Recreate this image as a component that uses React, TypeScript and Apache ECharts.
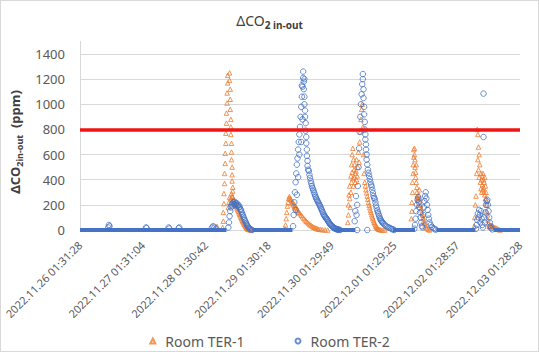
import React, { useEffect, useRef } from "react";
import * as echarts from "echarts";

// x = days since 2022.11.26 01:31:28
const tickLabels = [
  "2022.11.26 01:31:28",
  "2022.11.27 01:31:04",
  "2022.11.28 01:30:42",
  "2022.11.29 01:30:18",
  "2022.11.30 01:29:49",
  "2022.12.01 01:29:25",
  "2022.12.02 01:28:57",
  "2022.12.03 01:28:28",
];

const thresholdValue = 800;

// Room TER-1 (orange triangles)
const ter1Nov28 = [[2.18, 30]];
const ter1Nov29 = [
  [2.27, 20], [2.28, 70], [2.28, 140], [2.29, 210], [2.29, 290], [2.3, 370], [2.3, 450], [2.31, 530],
  [2.31, 610], [2.32, 690], [2.32, 770], [2.33, 850], [2.33, 930], [2.34, 1010], [2.34, 1090], [2.35, 1170],
  [2.35, 1230], [2.38, 1250], [2.38, 1190], [2.39, 1120], [2.39, 1040], [2.39, 960], [2.4, 880], [2.4, 820],
  [2.4, 760], [2.41, 690], [2.41, 620], [2.41, 560], [2.42, 500], [2.42, 440], [2.42, 390], [2.43, 340],
  [2.43, 310], [2.36, 180], [2.37, 220], [2.38, 260], [2.4, 250], [2.41, 290], [2.42, 270], [2.43, 260],
  [2.44, 245], [2.45, 235], [2.46, 220], [2.47, 210], [2.48, 195], [2.49, 185], [2.5, 170], [2.51, 160],
  [2.52, 148], [2.53, 135], [2.54, 125], [2.55, 112], [2.56, 100], [2.57, 90], [2.58, 78], [2.59, 68],
  [2.6, 58], [2.61, 48], [2.62, 40], [2.63, 32], [2.64, 25], [2.65, 18], [2.66, 12], [2.67, 8],
  [2.68, 5], [2.7, 2], [2.72, 0],
];
const ter1Nov30 = [
  [3.26, 10], [3.27, 40], [3.28, 90], [3.29, 140], [3.3, 190], [3.31, 220], [3.32, 250], [3.33, 265],
  [3.34, 255], [3.35, 245], [3.36, 240], [3.37, 215], [3.38, 225], [3.39, 200], [3.4, 210], [3.41, 185],
  [3.42, 195], [3.43, 170], [3.44, 180], [3.45, 155], [3.46, 160], [3.47, 140], [3.48, 145], [3.5, 130],
  [3.52, 118], [3.54, 105], [3.56, 92], [3.58, 80], [3.6, 70], [3.62, 60], [3.64, 50], [3.66, 42],
  [3.68, 35], [3.7, 28], [3.72, 22], [3.74, 17], [3.76, 13], [3.78, 9], [3.8, 6], [3.83, 4],
  [3.86, 2], [3.9, 0], [3.94, 0],
];
const ter1Dec01 = [
  [4.26, 60], [4.27, 120], [4.27, 200], [4.28, 280], [4.29, 250], [4.29, 350], [4.3, 180], [4.31, 430],
  [4.31, 300], [4.32, 520], [4.32, 380], [4.33, 600], [4.33, 460], [4.34, 650], [4.34, 410], [4.35, 560],
  [4.35, 350], [4.36, 480], [4.36, 420], [4.37, 520], [4.38, 450], [4.38, 380], [4.39, 470], [4.4, 400],
  [4.4, 560], [4.41, 430], [4.42, 500], [4.43, 620], [4.44, 540], [4.45, 700], [4.46, 780], [4.47, 880],
  [4.48, 960], [4.49, 1000], [4.5, 820], [4.51, 600], [4.52, 450], [4.53, 380], [4.54, 350], [4.55, 320],
  [4.56, 295], [4.57, 270], [4.58, 245], [4.59, 220], [4.6, 198], [4.61, 178], [4.62, 158], [4.63, 140],
  [4.64, 122], [4.65, 105], [4.66, 90], [4.67, 75], [4.68, 62], [4.69, 50], [4.7, 40], [4.71, 30],
  [4.72, 22], [4.73, 15], [4.74, 10], [4.75, 6], [4.77, 3], [4.79, 0], [4.82, 0], [4.85, 0],
];
const ter1Dec02 = [
  [5.27, 90], [5.28, 150], [5.28, 220], [5.29, 300], [5.29, 380], [5.3, 450], [5.3, 520], [5.31, 580],
  [5.31, 640], [5.32, 650], [5.32, 600], [5.33, 560], [5.33, 500], [5.34, 460], [5.34, 420], [5.35, 380],
  [5.35, 520], [5.36, 340], [5.36, 300], [5.37, 270], [5.37, 250], [5.38, 240], [5.38, 200], [5.39, 280],
  [5.4, 320], [5.41, 250], [5.42, 200], [5.43, 170], [5.44, 140], [5.45, 120], [5.46, 95], [5.47, 75],
  [5.48, 55], [5.49, 40], [5.5, 25], [5.52, 12], [5.54, 5], [5.56, 0],
];
const ter1Dec03 = [
  [6.27, 30], [6.28, 100], [6.29, 200], [6.3, 270], [6.31, 450], [6.32, 800], [6.33, 760], [6.33, 560],
  [6.34, 660], [6.34, 480], [6.35, 600], [6.35, 420], [6.36, 520], [6.37, 380], [6.38, 450], [6.38, 330],
  [6.39, 400], [6.39, 300], [6.4, 430], [6.4, 360], [6.41, 450], [6.41, 320], [6.42, 400], [6.42, 340],
  [6.43, 380], [6.43, 300], [6.44, 420], [6.44, 280], [6.45, 350], [6.45, 250], [6.46, 300], [6.46, 200],
  [6.47, 230], [6.47, 150], [6.48, 120], [6.49, 80], [6.5, 50], [6.51, 30], [6.52, 25], [6.54, 35],
  [6.56, 30], [6.58, 25], [6.6, 20], [6.62, 15], [6.64, 10], [6.66, 5], [6.68, 0],
];

// Room TER-2 (blue circles)
const ter2Before = [
  [0.45, 20], [0.46, 40], [0.47, 30], [1.05, 20], [1.06, 15], [1.41, 20], [1.42, 12], [1.57, 15],
  [1.58, 20], [2.1, 20], [2.12, 30], [2.14, 20], [2.16, 10],
];
const ter2Nov29 = [
  [2.36, 20], [2.37, 60], [2.38, 110], [2.39, 150], [2.4, 180], [2.41, 200], [2.42, 210], [2.43, 190],
  [2.44, 220], [2.45, 205], [2.46, 225], [2.47, 200], [2.48, 215], [2.49, 195], [2.5, 210], [2.51, 190],
  [2.52, 200], [2.53, 180], [2.54, 185], [2.55, 165], [2.56, 160], [2.57, 145], [2.58, 130], [2.59, 118],
  [2.6, 105], [2.61, 92], [2.62, 80], [2.63, 68], [2.64, 56], [2.65, 45], [2.66, 36], [2.67, 28],
  [2.68, 20], [2.69, 14], [2.7, 9], [2.72, 4], [2.74, 0],
];
const ter2Nov30 = [
  [3.39, 30], [3.4, 120], [3.41, 220], [3.42, 300], [3.43, 380], [3.44, 450], [3.45, 520], [3.46, 570],
  [3.47, 640], [3.48, 700], [3.49, 760], [3.5, 820], [3.51, 900], [3.52, 980], [3.53, 1060], [3.54, 1140],
  [3.55, 1210], [3.55, 1260], [3.56, 1180], [3.56, 1120], [3.57, 1060], [3.57, 1000], [3.58, 950], [3.58, 900],
  [3.59, 850], [3.59, 790], [3.6, 740], [3.6, 690], [3.61, 640], [3.61, 590], [3.62, 550], [3.62, 510],
  [3.63, 480], [3.43, 160], [3.45, 280], [3.47, 420], [3.49, 600], [3.52, 700], [3.54, 880], [3.53, 1150],
  [3.57, 1200], [3.64, 470], [3.65, 440], [3.66, 415], [3.67, 390], [3.68, 370], [3.69, 350], [3.7, 335],
  [3.71, 320], [3.72, 305], [3.73, 290], [3.74, 275], [3.75, 262], [3.76, 250], [3.77, 240], [3.78, 230],
  [3.79, 220], [3.8, 210], [3.81, 200], [3.82, 190], [3.83, 178], [3.84, 166], [3.85, 155], [3.86, 143],
  [3.87, 131], [3.88, 120], [3.89, 112], [3.9, 105], [3.91, 98], [3.92, 91], [3.93, 85], [3.94, 77],
  [3.95, 68], [3.96, 60], [3.97, 53], [3.98, 46], [3.99, 40], [4.0, 35], [4.01, 30], [4.02, 25],
  [4.03, 20], [4.04, 17], [4.05, 14], [4.06, 11], [4.07, 9], [4.08, 7], [4.09, 5], [4.1, 4],
  [4.11, 3], [4.12, 2], [4.14, 0],
];
const ter2Dec01 = [
  [4.37, 70], [4.38, 150], [4.39, 270], [4.4, 120], [4.41, 200], [4.41, 0], [4.42, 350], [4.43, 500],
  [4.44, 650], [4.45, 780], [4.46, 900], [4.47, 1000], [4.48, 1080], [4.49, 1160], [4.5, 1240], [4.5, 1200],
  [4.51, 1120], [4.51, 1050], [4.52, 980], [4.52, 920], [4.53, 860], [4.53, 800], [4.54, 760], [4.54, 720],
  [4.55, 680], [4.55, 640], [4.56, 600], [4.56, 560], [4.57, 0], [4.57, 520], [4.58, 480], [4.59, 455],
  [4.6, 430], [4.61, 405], [4.62, 380], [4.63, 360], [4.64, 345], [4.65, 320], [4.66, 295], [4.67, 270],
  [4.68, 255], [4.69, 245], [4.7, 220], [4.71, 195], [4.72, 175], [4.73, 155], [4.74, 140], [4.75, 125],
  [4.76, 110], [4.77, 95], [4.78, 85], [4.79, 75], [4.8, 68], [4.81, 62], [4.82, 55], [4.84, 45],
  [4.86, 36], [4.88, 28], [4.9, 22], [4.92, 18], [4.94, 14], [4.96, 8], [4.98, 4], [5.0, 0],
];
const ter2Dec02 = [
  [5.32, 10], [5.33, 40], [5.34, 90], [5.35, 150], [5.36, 200], [5.37, 240], [5.38, 260], [5.39, 220],
  [5.4, 180], [5.41, 140], [5.42, 100], [5.43, 60], [5.44, 30], [5.45, 20], [5.46, 120], [5.47, 180],
  [5.48, 230], [5.49, 270], [5.5, 300], [5.51, 250], [5.52, 200], [5.53, 160], [5.54, 120], [5.55, 90],
  [5.56, 60], [5.58, 40], [5.6, 25], [5.62, 15], [5.64, 8], [5.66, 3],
];
const ter2Dec03 = [
  [6.3, 10], [6.31, 40], [6.32, 80], [6.33, 130], [6.34, 100], [6.35, 160], [6.36, 120], [6.37, 60],
  [6.38, 150], [6.39, 90], [6.4, 40], [6.41, 20], [6.42, 1085], [6.42, 740], [6.43, 100], [6.44, 60],
  [6.45, 140], [6.46, 200], [6.47, 230], [6.48, 240], [6.49, 200], [6.5, 150], [6.51, 100], [6.52, 60],
  [6.53, 30], [6.54, 15], [6.56, 5],
];
// spans (in days) where Room TER-2 sits on 0 with overlapping markers
const ter2ZeroRuns = [
  [0, 2.33], [2.74, 3.38], [4.06, 4.38], [4.98, 5.33], [5.67, 6.29], [6.58, 7.0],
];

const ORANGE = "#ED7D31";
const BLUE = "#4472C4";
const GREY_TEXT = "#595959";
const FONT = "Noto Sans";

export default function App() {
  const ref = useRef<HTMLDivElement>(null);
  useEffect(() => {
    if (!ref.current) return;
    const chart = echarts.init(ref.current, undefined, { renderer: "svg" });
    const ter1 = [...ter1Nov28, ...ter1Nov29, ...ter1Nov30, ...ter1Dec01, ...ter1Dec02, ...ter1Dec03];
    const ter2 = [...ter2Before, ...ter2Nov29, ...ter2Nov30, ...ter2Dec01, ...ter2Dec02, ...ter2Dec03];
    const zeroSeries = ter2ZeroRuns.map((r) => ({
      type: "line",
      name: "TER-2 zero",
      data: [[r[0], 0], [r[1], 0]],
      showSymbol: false,
      symbol: "none",
      lineStyle: { color: BLUE, width: 4 },
      silent: true,
      z: 3,
    }));
    chart.setOption({
      animation: false,
      textStyle: { fontFamily: FONT },
      title: {
        left: "center",
        top: 4,
        text: "{a|ΔCO}{b|2 in-out}",
        textStyle: {
          fontWeight: "normal",
          rich: {
            a: { fontSize: 14, fontWeight: "normal", color: "#404040", fontFamily: FONT, lineHeight: 20 },
            b: {
              fontSize: 10,
              fontWeight: "bold",
              color: "#404040",
              fontFamily: FONT,
              lineHeight: 12,
              verticalAlign: "bottom",
            },
          },
        },
      },
      legend: {
        data: ["Room TER-1", "Room TER-2"],
        left: "center",
        top: 328,
        itemWidth: 5,
        itemHeight: 5,
        itemGap: 50,
        textStyle: { color: GREY_TEXT, fontSize: 14, fontFamily: FONT, padding: [0, 0, 0, 5] },
      },
      grid: { left: 79, right: 18, top: 53, bottom: 121, containLabel: false, outerBoundsMode: "none" },
      xAxis: {
        type: "value",
        min: 0,
        max: 7,
        interval: 1,
        splitLine: { show: false },
        axisTick: { show: false },
        axisLine: { show: true, lineStyle: { color: "#D9D9D9", width: 1 } },
        axisLabel: {
          rotate: 45,
          margin: 13,
          color: GREY_TEXT,
          fontSize: 11,
          fontFamily: FONT,
          formatter: (v: number) => tickLabels[Math.round(v)] ?? "",
        },
      },
      yAxis: {
        type: "value",
        min: 0,
        max: 1400,
        interval: 200,
        name: "{a|ΔCO}{b|2in-out}{a|  (ppm)}",
        nameLocation: "middle",
        nameGap: 47,
        nameTextStyle: {
          rich: {
            a: { fontSize: 13, fontWeight: "bold", color: "#404040", fontFamily: FONT, lineHeight: 18 },
            b: {
              fontSize: 9,
              fontWeight: "bold",
              color: "#404040",
              fontFamily: FONT,
              lineHeight: 10,
              verticalAlign: "bottom",
            },
          },
        },
        axisLine: { show: true, lineStyle: { color: "#D9D9D9", width: 1 } },
        axisTick: { show: false },
        splitLine: { show: true, lineStyle: { color: "#D9D9D9", width: 1 } },
        axisLabel: {
          color: GREY_TEXT,
          fontSize: 13,
          fontFamily: FONT,
          margin: 15,
          formatter: (v: number) => String(v),
        },
      },
      graphic: [
        {
          type: "line",
          shape: { x1: 79.5, y1: 40, x2: 79.5, y2: 53 },
          style: { stroke: "#D9D9D9", lineWidth: 1 },
          silent: true,
        },
      ],
      series: [
        {
          type: "scatter",
          name: "Room TER-1",
          data: ter1,
          symbol: "triangle",
          symbolSize: 4.5,
          itemStyle: { color: "rgba(0,0,0,0)", borderColor: ORANGE, borderWidth: 1 },
          z: 2,
          markLine: {
            silent: true,
            symbol: "none",
            label: { show: false },
            lineStyle: { color: "#F01414", width: 3.5, type: "solid" },
            data: [{ yAxis: thresholdValue }],
            z: 10,
          },
        },
        ...zeroSeries,
        {
          type: "scatter",
          name: "Room TER-2",
          data: ter2,
          symbol: "circle",
          symbolSize: 5.5,
          itemStyle: { color: "rgba(0,0,0,0)", borderColor: BLUE, borderWidth: 1 },
          z: 4,
        },
      ],
    });
    return () => chart.dispose();
  }, []);
  return (
    <div
      ref={ref}
      style={{
        position: "fixed",
        left: 0,
        top: 0,
        width: 539,
        height: 352,
        boxSizing: "border-box",
        border: "1px solid #D9D9D9",
        background: "#fff",
      }}
    />
  );
}
